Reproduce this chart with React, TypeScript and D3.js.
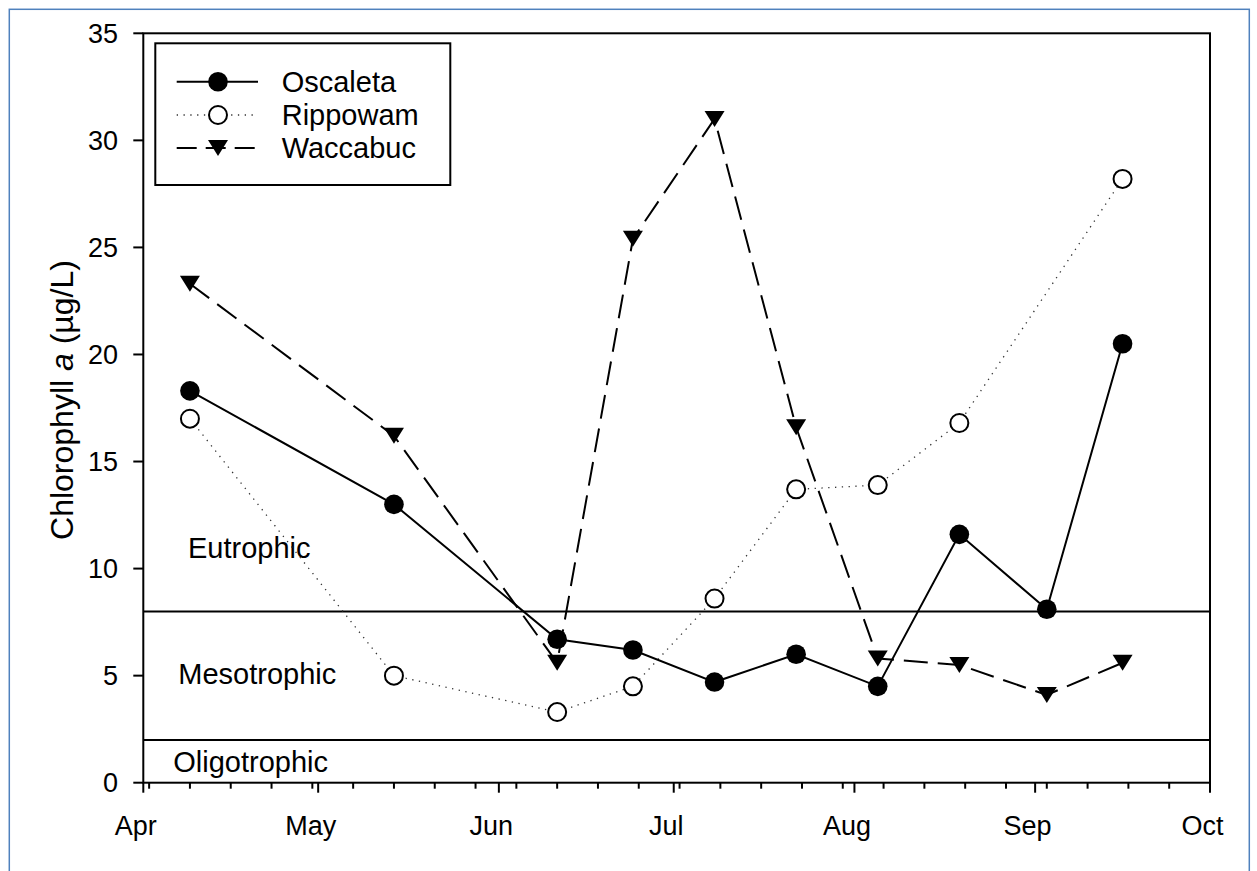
import React from "react";
import * as d3 from "d3";

// Sampling dates (2009 season) and chlorophyll a concentrations (µg/L)
const sampleDates = [
  "2009-04-09", "2009-05-14", "2009-06-11", "2009-06-24", "2009-07-08",
  "2009-07-22", "2009-08-05", "2009-08-19", "2009-09-03", "2009-09-16",
];
const oscaleta = [18.3, 13.0, 6.7, 6.2, 4.7, 6.0, 4.5, 11.6, 8.1, 20.5];
const rippowam = [17.0, 5.0, 3.3, 4.5, 8.6, 13.7, 13.9, 16.8, null, 28.2];
const waccabuc = [23.3, 16.2, 5.6, 25.4, 31.0, 16.6, 5.8, 5.5, 4.1, 5.6];

const seriesNames = ["Oscaleta", "Rippowam", "Waccabuc"];
const monthLabels = ["Apr", "May", "Jun", "Jul", "Aug", "Sep", "Oct"];
const yTicks = [0, 5, 10, 15, 20, 25, 30, 35];

// Trophic-state boundaries and their labels
const trophicBounds = [8, 2];
const trophicLabels = [
  { name: "Eutrophic", value: 10.5 },
  { name: "Mesotrophic", value: 4.6 },
  { name: "Oligotrophic", value: 0.5 },
];

const FONT = "'Liberation Sans', Arial, Helvetica, sans-serif";

const W = 1257;
const H = 871;
const left = 143.3;
const right = 1210;
const top = 33.3;
const bottom = 782.7;

const parse = (s: string) => {
  const [y, m, d] = s.split("-").map(Number);
  return new Date(Date.UTC(y, m - 1, d));
};

export default function App() {
  const start = new Date(Date.UTC(2009, 3, 1));
  const end = new Date(Date.UTC(2009, 9, 1));
  const x = d3.scaleUtc().domain([start, end]).range([left, right]);
  const y = d3.scaleLinear().domain([0, 35]).range([bottom, top]);

  const majorTicks = d3.utcMonth.range(start, d3.utcDay.offset(end, 1));
  const minorTicks = d3.utcDay.range(d3.utcDay.offset(start, 1), d3.utcDay.offset(end, 1), 7);

  const dates = sampleDates.map(parse);
  const mk = (vals: (number | null)[]) =>
    vals
      .map((v, i) => (v == null ? null : { d: dates[i], v }))
      .filter((p): p is { d: Date; v: number } => p !== null);

  const oPts = mk(oscaleta);
  const rPts = mk(rippowam);
  const wPts = mk(waccabuc);

  const line = d3
    .line<{ d: Date; v: number }>()
    .x((p) => x(p.d))
    .y((p) => y(p.v));

  const tri = (cx: number, cy: number) =>
    `M${cx - 10},${cy - 8}L${cx + 10},${cy - 8}L${cx},${cy + 8}Z`;

  const legendRows = [81.7, 115, 148];
  const legX0 = 176.7;
  const legX1 = 258;
  const legM = 218;

  return (
    <div style={{ position: "absolute", left: 0, top: 0 }}>
      <svg width={W} height={H} style={{ display: "block", background: "#fff" }}>
        {/* outer frame */}
        <rect x={9.3} y={9.3} width={1240} height={900} fill="none" stroke="#4f81bd" strokeWidth={1.5} />

        {/* trophic boundaries */}
        {trophicBounds.map((b) => (
          <line key={b} x1={left} x2={right} y1={y(b)} y2={y(b)} stroke="#000" strokeWidth={2} />
        ))}
        {trophicLabels.map((t, i) => (
          <text
            key={t.name}
            x={[188, 178.3, 173.3][i]}
            y={y(t.value)}
            fontFamily={FONT}
            fontSize={29}
            fill="#000"
          >
            {t.name}
          </text>
        ))}

        {/* series lines */}
        <path d={line(rPts) || ""} fill="none" stroke="#333" strokeWidth={1.3} strokeDasharray="1.3 5.5" />
        <path d={line(wPts) || ""} fill="none" stroke="#000" strokeWidth={2} strokeDasharray="24 10" />
        <path d={line(oPts) || ""} fill="none" stroke="#000" strokeWidth={2} />

        {/* markers */}
        {rPts.map((p, i) => (
          <circle key={"r" + i} cx={x(p.d)} cy={y(p.v)} r={9} fill="#fff" stroke="#000" strokeWidth={2} />
        ))}
        {wPts.map((p, i) => (
          <path key={"w" + i} d={tri(x(p.d), y(p.v))} fill="#000" />
        ))}
        {oPts.map((p, i) => (
          <circle key={"o" + i} cx={x(p.d)} cy={y(p.v)} r={9.8} fill="#000" />
        ))}

        {/* plot frame */}
        <rect x={left} y={top} width={right - left} height={bottom - top} fill="none" stroke="#000" strokeWidth={2} />

        {/* y axis ticks and labels */}
        {yTicks.map((t) => (
          <g key={t}>
            <line x1={left - 10} x2={left} y1={y(t)} y2={y(t)} stroke="#000" strokeWidth={2} />
            <text x={118} y={y(t) + 9.5} textAnchor="end" fontFamily={FONT} fontSize={27}>
              {t}
            </text>
          </g>
        ))}

        {/* x axis ticks and labels */}
        {minorTicks.map((d, i) => (
          <line key={"m" + i} x1={x(d)} x2={x(d)} y1={bottom} y2={bottom + 6} stroke="#000" strokeWidth={2} />
        ))}
        {majorTicks.map((d, i) => (
          <g key={"M" + i}>
            <line x1={x(d)} x2={x(d)} y1={bottom} y2={bottom + 10} stroke="#000" strokeWidth={2} />
            <text x={x(d) - 7.5} y={835} textAnchor="middle" fontFamily={FONT} fontSize={27}>
              {monthLabels[i]}
            </text>
          </g>
        ))}

        {/* y axis title */}
        <text
          transform={`translate(73, 400) rotate(-90)`}
          textAnchor="middle"
          fontFamily={FONT}
          fontSize={32}
        >
          Chlorophyll <tspan fontStyle="italic">a</tspan> (µg/L)
        </text>

        {/* legend */}
        <rect x={155.3} y={43.3} width={295} height={141.7} fill="#fff" stroke="#000" strokeWidth={2} />
        {seriesNames.map((name, i) => {
          const ly = legendRows[i];
          return (
            <g key={name}>
              {i === 0 && <line x1={legX0} x2={legX1} y1={ly} y2={ly} stroke="#000" strokeWidth={2} />}
              {i === 1 && (
                <line x1={legX0} x2={legX1} y1={ly} y2={ly} stroke="#333" strokeWidth={1.3} strokeDasharray="1.3 5.5" />
              )}
              {i === 2 && (
                <line x1={legX0} x2={legX1} y1={ly} y2={ly} stroke="#000" strokeWidth={2} strokeDasharray="20 9" />
              )}
              {i === 0 && <circle cx={legM} cy={ly} r={9.8} fill="#000" />}
              {i === 1 && <circle cx={legM} cy={ly} r={9} fill="#fff" stroke="#000" strokeWidth={2} />}
              {i === 2 && <path d={tri(legM, ly)} fill="#000" />}
              <text x={281.7} y={ly + 10} fontFamily={FONT} fontSize={29}>
                {name}
              </text>
            </g>
          );
        })}
      </svg>
    </div>
  );
}
